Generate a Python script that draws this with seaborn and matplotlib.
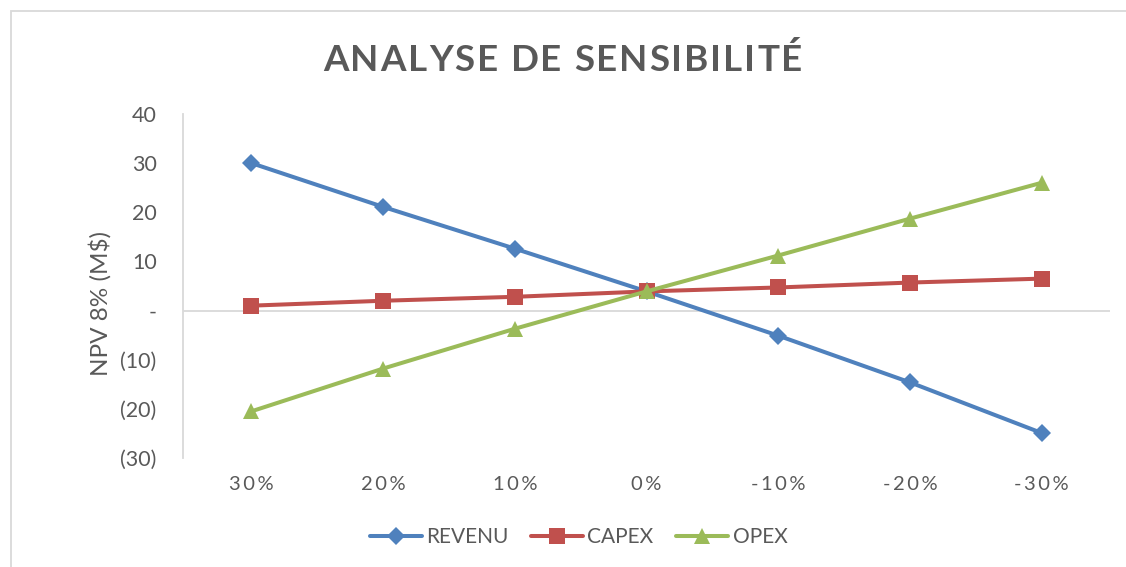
import matplotlib
matplotlib.use("Agg")
import matplotlib.pyplot as plt
from matplotlib.patches import Rectangle
import seaborn as sns
import pandas as pd

# ---- data ----
variations = ["30%", "20%", "10%", "0%", "-10%", "-20%", "-30%"]
revenu = [30.0, 21.1, 12.6, 3.9, -5.1, -14.6, -24.9]
capex = [1.0, 2.0, 2.8, 3.9, 4.7, 5.7, 6.5]
opex = [-20.5, -11.8, -3.7, 3.9, 11.2, 18.7, 26.0]
series_names = ["REVENU", "CAPEX", "OPEX"]
y_ticks = [40, 30, 20, 10, 0, -10, -20, -30]
y_tick_labels = ["40", "30", "20", "10", "-", "(10)", "(20)", "(30)"]
title = "ANALYSE DE SENSIBILITÉ"
y_label = "NPV 8% (M$)"

colors = {"REVENU": "#4F81BD", "CAPEX": "#C0504D", "OPEX": "#9BBB59"}
markers = {"REVENU": "D", "CAPEX": "s", "OPEX": "^"}
msizes = {"D": 9.5, "s": 11.5, "^": 12}
TXT = "#595959"
LW = 2.9

rows = []
for name, vals in zip(series_names, [revenu, capex, opex]):
    for v, val in zip(variations, vals):
        rows.append({"variation": v, "npv": val, "serie": name})
df = pd.DataFrame(rows)

sns.set_theme(style="white")
plt.rcParams["font.family"] = ["Lato", "DejaVu Sans"]

W, H = 1126, 567
fig = plt.figure(figsize=(W / 100, H / 100), dpi=100)
ax = fig.add_axes([183 / W, 1 - 458 / H, 927 / W, 344 / H])

sns.lineplot(data=df, x="variation", y="npv", hue="serie", style="serie",
             palette=colors, markers=markers, dashes=False, sort=False,
             linewidth=LW, markeredgewidth=0, ax=ax)
for ln in ax.lines:
    m = ln.get_marker()
    if m in msizes:
        ln.set_markersize(msizes[m])

ax.axhline(0, color="#D9D9D9", lw=1.3, zorder=0)
ax.set_xlim(-0.52, 6.52)
ax.set_ylim(-30, 40)
ax.set_yticks(y_ticks, y_tick_labels)
ax.set_xticks(range(len(variations)), ["\u2009".join(v) for v in variations])
ax.tick_params(axis="y", length=0, pad=19, labelsize=15.5, labelcolor=TXT)
ax.tick_params(axis="x", length=0, pad=13, labelsize=14.5, labelcolor=TXT)
ax.set_xlabel("")
ax.set_ylabel(y_label, fontsize=17.5, color=TXT)
ax.yaxis.set_label_coords(-0.077, 0.45)
for s in ["top", "right", "bottom"]:
    ax.spines[s].set_visible(False)
ax.spines["left"].set_color("#D9D9D9")
ax.spines["left"].set_linewidth(1.3)
ax.grid(False)

# legend
handles, labels = ax.get_legend_handles_labels()
ax.get_legend().remove()
leg = fig.legend(handles, labels, ncol=3, loc="center",
                 bbox_to_anchor=(578.5 / W, 1 - 537 / H), frameon=False,
                 fontsize=15, handlelength=2.5, handletextpad=0.2,
                 columnspacing=1.1, labelcolor=TXT)
for h in leg.legend_handles:
    m = h.get_marker()
    if m in msizes:
        h.set_markersize(msizes[m] * 0.95)
    h.set_linewidth(LW)
    h.set_markeredgewidth(0)

# title with letter spacing
fig.canvas.draw()
renderer = fig.canvas.get_renderer()
tkw = dict(fontsize=26.5, fontweight="bold", color=TXT, family=["Lato", "DejaVu Sans"])
chars = list(title)
widths = []
for ch in chars:
    if ch == " ":
        widths.append(None)
        continue
    t = fig.text(0, 0, ch, **tkw)
    widths.append(t.get_window_extent(renderer).width)
    t.remove()
space_w = 26.5 * 100 / 72 * 0.25
target = 802 - 323
ngaps = len(chars) - 1
ink = sum(w for w in widths if w is not None) + space_w * chars.count(" ")
track = (target - ink) / ngaps
x = 323.0
for ch, w in zip(chars, widths):
    if ch == " ":
        x += space_w + track
        continue
    fig.text(x / W, 1 - 71 / H, ch, ha="left", va="baseline", **tkw)
    x += w + track

# outer border (top and left visible)
fig.patches.append(Rectangle((11 / W, -0.2), 1.2, (H - 11) / H + 0.2,
                             transform=fig.transFigure, fill=False,
                             ec="#D9D9D9", lw=1.3))

fig.savefig("out.png", dpi=100)
